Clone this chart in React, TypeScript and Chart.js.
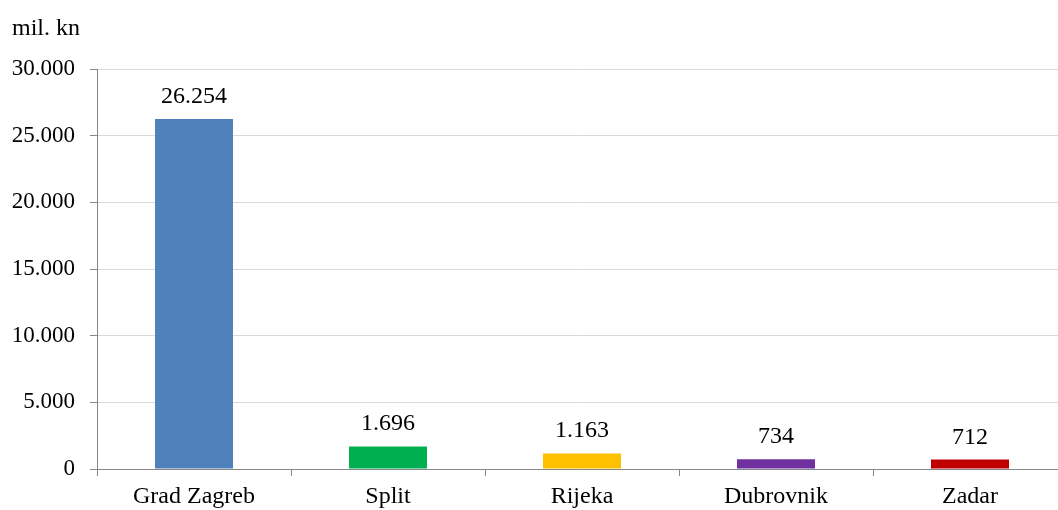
import React, { useEffect, useRef } from "react";
import { Chart, registerables } from "chart.js";

Chart.register(...registerables);

const categories = ["Grad Zagreb", "Split", "Rijeka", "Dubrovnik", "Zadar"];
const values = [26254, 1696, 1163, 734, 712];
const barColors = ["#4F81BD", "#00B050", "#FFC000", "#7030A0", "#C00000"];
const unitLabel = "mil. kn";
const yMax = 30000;
const yStep = 5000;

const FONT = "'Liberation Serif', 'Times New Roman', serif";
const FS = 24;
const FS_Y = 23;

const fmt = (v: number) => String(Math.round(v)).replace(/\B(?=(\d{3})+(?!\d))/g, ".");

const overlayPlugin = {
  id: "overlay",
  afterDatasetsDraw(chart: any) {
    const ctx = chart.ctx;
    ctx.save();
    ctx.fillStyle = "#000";
    ctx.font = `${FS}px ${FONT}`;
    ctx.textAlign = "center";
    ctx.textBaseline = "alphabetic";
    const meta = chart.getDatasetMeta(0);
    meta.data.forEach((bar: any, i: number) => {
      ctx.fillText(fmt(values[i]), bar.x, bar.y - 16);
    });
    ctx.textAlign = "left";
    ctx.fillText(unitLabel, 12, 35);
    ctx.restore();
  },
};

export default function App() {
  const ref = useRef<HTMLCanvasElement>(null);
  useEffect(() => {
    if (!ref.current) return;
    const chart = new Chart(ref.current, {
      type: "bar",
      data: {
        labels: categories,
        datasets: [
          {
            data: values,
            backgroundColor: barColors,
            borderWidth: 0,
            barPercentage: 1,
            categoryPercentage: 0.402,
          },
        ],
      },
      plugins: [overlayPlugin],
      options: {
        animation: false,
        responsive: true,
        maintainAspectRatio: false,
        layout: { padding: { top: 69, right: 0, left: 0, bottom: 0 } },
        plugins: {
          legend: { display: false },
          title: { display: false },
          tooltip: { enabled: false },
        },
        scales: {
          x: {
            grid: {
              offset: true,
              drawOnChartArea: false,
              drawTicks: true,
              tickLength: 7,
              tickColor: "#888888",
            },
            border: { color: "#888888", width: 1 },
            ticks: {
              color: "#000",
              font: { family: FONT, size: FS },
              padding: 6,
              maxRotation: 0,
              autoSkip: false,
            },
            afterFit: (s: any) => {
              s.height = 41;
            },
          },
          y: {
            min: 0,
            max: yMax,
            grid: {
              color: "#D9D9D9",
              lineWidth: 1,
              tickLength: 7,
              tickColor: "#888888",
            },
            border: { color: "#888888", width: 1 },
            ticks: {
              stepSize: yStep,
              color: "#000",
              font: { family: FONT, size: FS_Y },
              padding: 15,
              callback: (v: any) => fmt(Number(v)),
            },
            afterFit: (s: any) => {
              s.width = 97;
            },
          },
        },
      },
    });
    return () => chart.destroy();
  }, []);
  return (
    <div style={{ position: "fixed", left: 0, top: 0, width: 1058, height: 510, background: "#fff", overflow: "hidden" }}>
      <div style={{ position: "absolute", left: 0, top: 0, width: 1067, height: 510 }}>
        <canvas ref={ref} />
      </div>
    </div>
  );
}
